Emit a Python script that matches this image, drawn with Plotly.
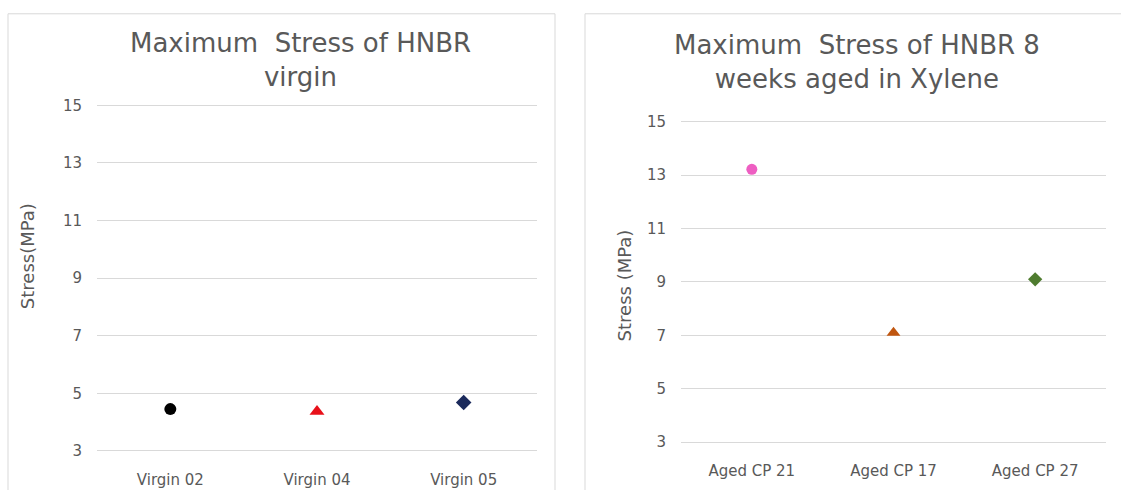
import plotly.graph_objects as go

# ---- data ----
virgin_labels = ["Virgin 02", "Virgin 04", "Virgin 05"]
virgin_stress = [4.45, 4.37, 4.68]
virgin_colors = ["#000000", "#e8101a", "#1b2a5c"]
virgin_symbols = ["circle", "triangle-up", "diamond"]

aged_labels = ["Aged CP 21", "Aged CP 17", "Aged CP 27"]
aged_stress = [13.22, 7.1, 9.1]
aged_colors = ["#ee5ec2", "#c0560f", "#4f7c2f"]
aged_symbols = ["circle", "triangle-up", "diamond"]

y_ticks = [3, 5, 7, 9, 11, 13, 15]
left_title = "Maximum  Stress of HNBR<br>virgin"
right_title = "Maximum  Stress of HNBR 8<br>weeks aged in Xylene"
left_ytitle = "Stress(MPa)"
right_ytitle = "Stress (MPa)"

W, H = 1121, 490
def px(x):
    return x / W
def py(y):
    return 1 - y / H

FONT = "DejaVu Sans, Liberation Sans, Arial, sans-serif"
TXT = "#595959"
GRID = "#d9d9d9"

fig = go.Figure()

for lab, val, col, sym in zip(virgin_labels, virgin_stress, virgin_colors, virgin_symbols):
    fig.add_trace(go.Scatter(x=[lab], y=[val], mode="markers", xaxis="x", yaxis="y",
                             marker=dict(color=col, symbol=sym,
                                         size=12 if sym != "triangle-up" else 13),
                             showlegend=False, hoverinfo="x+y"))
for lab, val, col, sym in zip(aged_labels, aged_stress, aged_colors, aged_symbols):
    fig.add_trace(go.Scatter(x=[lab], y=[val], mode="markers", xaxis="x2", yaxis="y2",
                             marker=dict(color=col, symbol=sym,
                                         size=11 if sym != "triangle-up" else 12),
                             showlegend=False, hoverinfo="x+y"))

common_y = dict(range=[2.9, 15.1], tickvals=y_ticks, showgrid=True, gridcolor=GRID,
                gridwidth=1, zeroline=False, showline=False, ticks="",
                tickfont=dict(family=FONT, size=15, color=TXT), ticklabelstandoff=14,
                fixedrange=True)
common_x = dict(type="category", range=[-0.5, 2.5], showgrid=False, zeroline=False,
                showline=False, ticks="", tickfont=dict(family=FONT, size=15, color=TXT),
                ticklabelstandoff=15, fixedrange=True)

fig.update_layout(
    width=W, height=H, margin=dict(l=0, r=0, t=0, b=0),
    paper_bgcolor="white", plot_bgcolor="white",
    xaxis=dict(domain=[px(97), px(537)], anchor="y", **common_x),
    yaxis=dict(domain=[py(459.96), py(99.04)], anchor="x", **common_y),
    xaxis2=dict(domain=[px(681), px(1106)], anchor="y2", **common_x),
    yaxis2=dict(domain=[py(450.74), py(116.26)], anchor="x2", **common_y),
    showlegend=False,
)

# chart borders
fig.add_shape(type="rect", xref="paper", yref="paper", x0=px(8), x1=px(555), y0=py(500), y1=py(8),
              line=dict(color=GRID, width=1), fillcolor="rgba(0,0,0,0)", layer="below")
fig.add_shape(type="rect", xref="paper", yref="paper", x0=px(585), x1=px(1130), y0=py(500), y1=py(8),
              line=dict(color=GRID, width=1), fillcolor="rgba(0,0,0,0)", layer="below")

# titles
fig.add_annotation(text=left_title, xref="paper", yref="paper", x=px(300), y=py(55),
                   showarrow=False, xanchor="center", yanchor="middle",
                   font=dict(family=FONT, size=26, color=TXT))
fig.add_annotation(text=right_title, xref="paper", yref="paper", x=px(857), y=py(58),
                   showarrow=False, xanchor="center", yanchor="middle",
                   font=dict(family=FONT, size=26, color=TXT))
fig.add_annotation(text=left_ytitle, xref="paper", yref="paper", x=px(27), y=py(257),
                   showarrow=False, textangle=-90, xanchor="center", yanchor="middle",
                   font=dict(family=FONT, size=18, color=TXT))
fig.add_annotation(text=right_ytitle, xref="paper", yref="paper", x=px(624), y=py(287),
                   showarrow=False, textangle=-90, xanchor="center", yanchor="middle",
                   font=dict(family=FONT, size=18, color=TXT))

fig.write_html("out.html", config={"displayModeBar": False},
               post_script="document.body.style.margin='0';document.body.style.overflow='hidden';")
